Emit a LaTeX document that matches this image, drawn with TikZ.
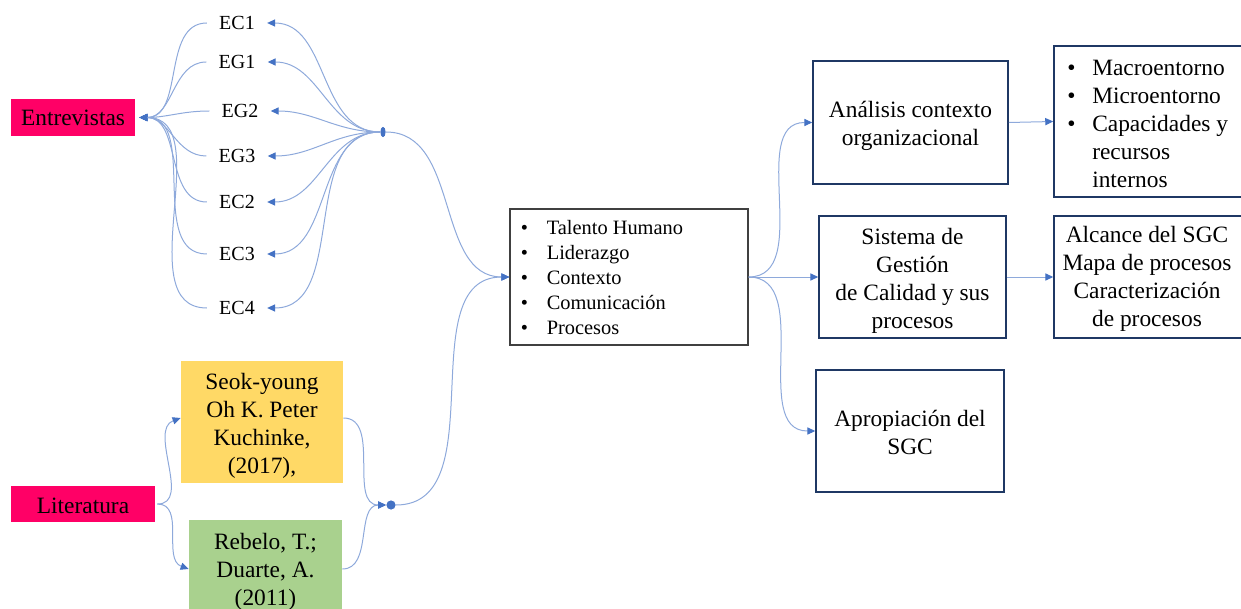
\documentclass[tikz,border=0pt]{standalone}
\usepackage{fontspec}
\setmainfont{Liberation Serif}
\usetikzlibrary{arrows.meta,shapes.geometric}
\definecolor{magentabox}{HTML}{FF0066}
\definecolor{yellowbox}{HTML}{FFD966}
\definecolor{greenbox}{HTML}{A9D18E}
\definecolor{navyline}{HTML}{1F3864}
\definecolor{grayline}{HTML}{404040}
\definecolor{linkblue}{HTML}{8EA9DB}
\definecolor{tipblue}{HTML}{4472C4}
\tikzset{
  bigfont/.style={font=\fontsize{11.7}{14}\selectfont},
  srcbox/.style={bigfont, fill=magentabox, inner sep=0pt, align=center},
  refbox/.style={inner sep=0pt},
  navybox/.style={draw=navyline, line width=0.75pt, inner sep=0pt},
  boxtext/.style={bigfont, inner sep=0pt, align=center},
  lbl/.style={font=\fontsize{10}{12}\selectfont, inner xsep=6pt, inner ysep=2pt},
  link/.style={draw=linkblue, line width=0.5pt},
  arr/.style={link, -{Triangle[length=4pt,width=3.6pt,color=tipblue]}},
  hubdot/.style={fill=tipblue, draw=none, inner sep=0pt}
}
\begin{document}
\begin{tikzpicture}[x=0.5pt, y=-0.5pt]
\useasboundingbox (0,0) rectangle (1241,609);

% sources
\node[srcbox, minimum width=62pt, minimum height=18.5pt] (entrev) at (73,117.5) {Entrevistas};
\node[srcbox, minimum width=72pt, minimum height=18pt] (litera) at (83,504) {};
\node[bigfont, inner sep=0pt] (literatxt) at ([yshift=-1pt]litera.center) {Literatura};

% interview codes
\node[lbl] (ec1) at (237,23) {EC1};
\node[lbl] (eg1) at (237,62) {EG1};
\node[lbl] (eg2) at (240,111) {EG2};
\node[lbl] (eg3) at (237,156) {EG3};
\node[lbl] (ec2) at (237,202) {EC2};
\node[lbl] (ec3) at (237,254) {EC3};
\node[lbl] (ec4) at (237,308) {EC4};

% literature references
\node[refbox, fill=yellowbox, minimum width=81pt, minimum height=61pt] (seok) at (262,422) {};
\node[boxtext] (seoktxt) at ([yshift=-1.8pt]seok.center) {Seok-young\\Oh K. Peter\\Kuchinke,\\(2017),};
\node[refbox, fill=greenbox, minimum width=76.5pt, minimum height=49pt] (rebelo) at (265.5,569) {};
\node[boxtext] (rebelotxt) at ([yshift=-1.5pt]rebelo.center) {Rebelo, T.;\\Duarte, A.\\(2011)};

% junction points
\node[hubdot, ellipse, minimum width=2.6pt, minimum height=5.2pt] (hub1) at (383,132) {};
\node[hubdot, circle, minimum size=4.6pt] (hub2) at (391,505) {};

% central categories
\node[draw=grayline, line width=0.6pt, minimum width=119pt, minimum height=68pt, inner sep=0pt] (talento) at (629,277) {};
\node[anchor=west, inner sep=0pt, font=\fontsize{10.2}{12.5}\selectfont] (talentotxt) at ([xshift=5.5pt,yshift=-1.2pt]talento.west)
  {\begin{tabular}{@{}p{13pt}@{}l@{}}
   \textbullet & Talento Humano\\
   \textbullet & Liderazgo\\
   \textbullet & Contexto\\
   \textbullet & Comunicación\\
   \textbullet & Procesos
   \end{tabular}};

% results
\node[navybox, minimum width=97.5pt, minimum height=61.5pt] (analisis) at (910.5,122.5) {};
\node[boxtext] (analisistxt) at ([yshift=-1.7pt]analisis.center) {Análisis contexto\\organizacional};
\node[navybox, minimum width=93.5pt, minimum height=61pt] (sistema) at (912.5,277) {};
\node[boxtext] (sistematxt) at ([yshift=-2pt]sistema.center) {Sistema de\\Gestión\\de Calidad y sus\\procesos};
\node[navybox, minimum width=94pt, minimum height=61pt] (apropia) at (910,431) {};
\node[boxtext] (apropiatxt) at ([yshift=-0.6pt]apropia.center) {Apropiación del\\SGC};

\node[navybox, minimum width=100pt, minimum height=75.5pt] (macro) at (1154,121.5) {};
\node[anchor=west, inner sep=0pt, bigfont] (macrotxt) at ([xshift=6.8pt,yshift=-2pt]macro.west)
  {\begin{tabular}{@{}p{12.5pt}@{}l@{}}
   \textbullet & Macroentorno\\
   \textbullet & Microentorno\\
   \textbullet & Capacidades y\\
   & recursos\\
   & internos
   \end{tabular}};
\node[navybox, minimum width=100pt, minimum height=61pt] (alcance) at (1154,277) {};
\node[boxtext] (alcancetxt) at (1147,279) {Alcance del SGC\\Mapa de procesos\\Caracterización\\de procesos};

% codes to interviews
\foreach \n in {ec1,eg1,eg2,eg3,ec2,ec3,ec4}{
  \draw[arr] (\n.west) to[out=180, in=0] ([xshift=2pt]entrev.east);
  \draw[arr] (hub1.west) to[out=180, in=0] (\n.east);
}

% literature branches
\draw[arr] ([xshift=1pt]litera.east) to[out=0, in=200] ([yshift=2pt]seok.west);
\draw[arr] ([xshift=1pt]litera.east) to[out=0, in=160] (rebelo.west);
\draw[arr] ([yshift=2pt]seok.east) to[out=0, in=180] (hub2.west);
\draw[arr] (rebelo.east) to[out=0, in=180] (hub2.west);

% into the central categories
\draw[arr] (hub1.east) to[out=0, in=180] (talento.west);
\draw[arr] (hub2.east) to[out=0, in=180] (talento.west);

% to results
\draw[arr] (talento.east) to[out=0, in=180] (analisis.west);
\draw[arr] (talento.east) -- (sistema.west);
\draw[arr] (talento.east) to[out=0, in=180] (apropia.west);
\draw[arr] (analisis.east) -- (macro.west);
\draw[arr] (sistema.east) -- (alcance.west);
\end{tikzpicture}
\end{document}
